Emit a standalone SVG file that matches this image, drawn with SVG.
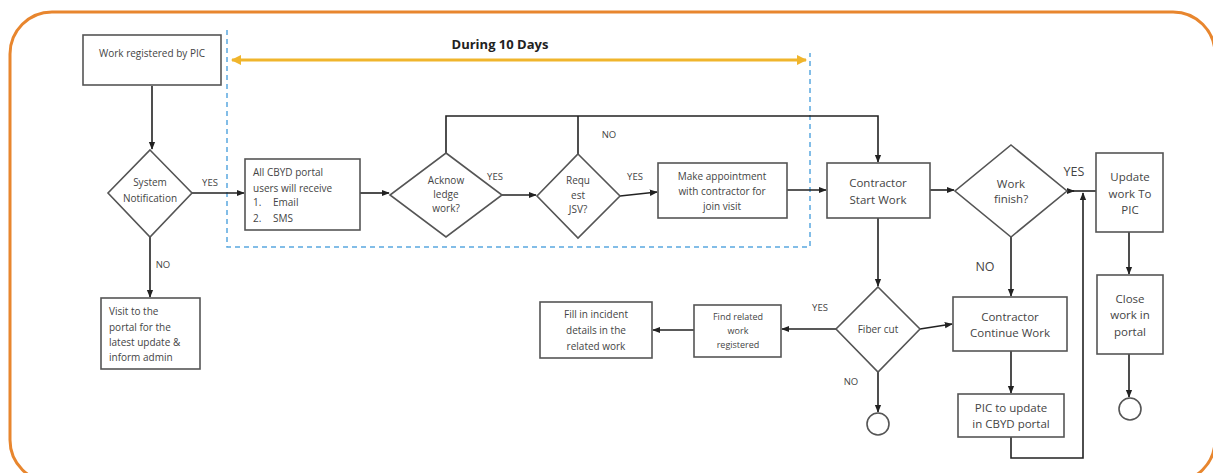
<svg xmlns="http://www.w3.org/2000/svg" width="1213" height="473" viewBox="0 0 1213 473">
<defs>
<marker id="ah" viewBox="0 0 10 10" refX="9" refY="5" markerWidth="5" markerHeight="5" orient="auto-start-reverse">
<path d="M0,1 L10,5 L0,9 z" fill="#222"/>
</marker>
<marker id="ya" viewBox="0 0 10 10" refX="9" refY="5" markerWidth="3.5" markerHeight="3.5" orient="auto-start-reverse">
<path d="M0,0 L10,5 L0,10 z" fill="#f0b52c"/>
</marker>
<style>
.box{fill:#fff;stroke:#555;stroke-width:1.6}
.t{font-family:"Open Sans","Liberation Sans",sans-serif;font-size:10px;fill:#444;text-anchor:middle}
.l{text-anchor:start}
.m{font-size:11.5px}
.s{font-size:9px}
.lab{font-family:"Open Sans","Liberation Sans",sans-serif;font-size:9.5px;fill:#444;text-anchor:middle}
.big{font-size:12.5px}
.c{fill:none;stroke:#222;stroke-width:1.6}
</style>
</defs>
<rect x="10" y="12" width="1205" height="470" rx="42" fill="#fff" stroke="#e8862e" stroke-width="3"/>
<path d="M227,30 V247 H810 V53" fill="none" stroke="#5aa8e0" stroke-width="1.5" stroke-dasharray="5,4"/>
<path d="M232,60 H806" stroke="#f0b52c" stroke-width="3" fill="none" marker-start="url(#ya)" marker-end="url(#ya)"/>
<text x="500" y="49" class="t" style="font-weight:bold;font-size:13px;fill:#222">During 10 Days</text>

<g id="connectors">
<path class="c" d="M152,86 V149" marker-end="url(#ah)"/>
<path class="c" d="M192,193 H244" marker-end="url(#ah)"/>
<path class="c" d="M150,237 V297" marker-end="url(#ah)"/>
<path class="c" d="M360,193 H389" marker-end="url(#ah)"/>
<path class="c" d="M502,195 H536" marker-end="url(#ah)"/>
<path class="c" d="M620,196 L657,192" marker-end="url(#ah)"/>
<path class="c" d="M446,153 V116 H878 V162" marker-end="url(#ah)"/>
<path class="c" d="M578,154 V116"/>
<path class="c" d="M787,190 H826" marker-end="url(#ah)"/>
<path class="c" d="M930,190 H954" marker-end="url(#ah)"/>
<path class="c" d="M1067,191 H1096"/>
<path class="c" d="M1067,191 H1074" marker-end="url(#ah)"/>
<path class="c" d="M1011,437 V458 H1083 V193" marker-end="url(#ah)"/>
<path class="c" d="M1129,232 V274" marker-end="url(#ah)"/>
<path class="c" d="M1129,354 V397" marker-end="url(#ah)"/>
<path class="c" d="M1011,237 V296" marker-end="url(#ah)"/>
<path class="c" d="M1011,351 V393" marker-end="url(#ah)"/>
<path class="c" d="M878,218 V286" marker-end="url(#ah)"/>
<path class="c" d="M920,329 L952,324" marker-end="url(#ah)"/>
<path class="c" d="M836,329 H782" marker-end="url(#ah)"/>
<path class="c" d="M694,330 H653" marker-end="url(#ah)"/>
<path class="c" d="M878,372 V412" marker-end="url(#ah)"/>
<text x="210" y="186" class="lab">YES</text>
<text x="163" y="268" class="lab">NO</text>
<text x="495" y="180" class="lab">YES</text>
<text x="635" y="180" class="lab">YES</text>
<text x="609" y="138" class="lab">NO</text>
<text x="1074" y="176" class="lab big">YES</text>
<text x="985" y="271" class="lab big">NO</text>
<text x="820" y="311" class="lab s">YES</text>
<text x="851" y="385" class="lab s">NO</text>
</g>

<g id="work-registered">
<rect class="box" x="83" y="35" width="138" height="50"/>
<text x="152" y="57" class="t">Work registered by PIC</text>
</g>
<g id="system-notification">
<path class="box" d="M150,150 L192,193 L150,237 L108,193 z"/>
<text x="150" y="186" class="t">System</text>
<text x="150" y="202" class="t">Notification</text>
</g>
<g id="visit-portal">
<rect class="box" x="101" y="298" width="99" height="71"/>
<text x="109" y="315" class="t l">Visit to the</text>
<text x="109" y="331" class="t l">portal for the</text>
<text x="109" y="346" class="t l">latest update &amp;</text>
<text x="109" y="361" class="t l">inform admin</text>
</g>
<g id="cbyd-users">
<rect class="box" x="245" y="159" width="115" height="71"/>
<text x="253" y="176" class="t l">All CBYD portal</text>
<text x="253" y="192" class="t l">users  will receive</text>
<text x="253" y="206" class="t l">1.</text>
<text x="273" y="206" class="t l">Email</text>
<text x="253" y="222" class="t l">2.</text>
<text x="273" y="222" class="t l">SMS</text>
</g>
<g id="acknowledge">
<path class="box" d="M446,153 L502,195 L446,237 L390,195 z"/>
<text x="446" y="184" class="t">Acknow</text>
<text x="446" y="198" class="t">ledge</text>
<text x="446" y="212" class="t">work?</text>
</g>
<g id="request-jsv">
<path class="box" d="M578,154 L620,196 L578,238 L537,196 z"/>
<text x="578" y="184" class="t">Requ</text>
<text x="578" y="199" class="t">est</text>
<text x="578" y="213" class="t">JSV?</text>
</g>
<g id="appointment">
<rect class="box" x="658" y="163" width="129" height="55"/>
<text x="722" y="180" class="t">Make appointment</text>
<text x="722" y="195" class="t">with contractor for</text>
<text x="722" y="210" class="t">join visit</text>
</g>
<g id="start-work">
<rect class="box" x="827" y="163" width="103" height="55"/>
<text x="878" y="187" class="t m">Contractor</text>
<text x="878" y="204" class="t m">Start Work</text>
</g>
<g id="work-finish">
<path class="box" d="M1011,145 L1067,191 L1011,237 L955,191 z"/>
<text x="1011" y="188" class="t m">Work</text>
<text x="1011" y="203" class="t m">finish?</text>
</g>
<g id="update-pic">
<rect class="box" x="1096" y="153" width="67" height="79"/>
<text x="1130" y="181" class="t m">Update</text>
<text x="1130" y="198" class="t m">work To</text>
<text x="1130" y="214" class="t m">PIC</text>
</g>
<g id="close-work">
<rect class="box" x="1097" y="275" width="66" height="79"/>
<text x="1130" y="303" class="t m">Close</text>
<text x="1130" y="319" class="t m">work in</text>
<text x="1130" y="336" class="t m">portal</text>
</g>
<g id="end-right">
<circle cx="1130" cy="409" r="11" fill="#fff" stroke="#555" stroke-width="1.6"/>
</g>
<g id="continue-work">
<rect class="box" x="953" y="297" width="114" height="54"/>
<text x="1010" y="321" class="t m">Contractor</text>
<text x="1010" y="337" class="t m">Continue Work</text>
</g>
<g id="pic-update">
<rect class="box" x="958" y="394" width="106" height="43"/>
<text x="1011" y="412" class="t m">PIC to update</text>
<text x="1011" y="428" class="t m">in CBYD portal</text>
</g>
<g id="fiber-cut">
<path class="box" d="M878,287 L920,329 L878,372 L836,329 z"/>
<text x="878" y="333" class="t">Fiber cut</text>
</g>
<g id="end-fiber">
<circle cx="878" cy="424" r="11" fill="#fff" stroke="#555" stroke-width="1.6"/>
</g>
<g id="find-related">
<rect class="box" x="694" y="305" width="87" height="52"/>
<text x="738" y="320" class="t s">Find related</text>
<text x="738" y="334" class="t s">work</text>
<text x="738" y="348" class="t s">registered</text>
</g>
<g id="fill-incident">
<rect class="box" x="540" y="302" width="112" height="56"/>
<text x="596" y="318" class="t">Fill in incident</text>
<text x="596" y="334" class="t">details in the</text>
<text x="596" y="350" class="t">related work</text>
</g>
</svg>
